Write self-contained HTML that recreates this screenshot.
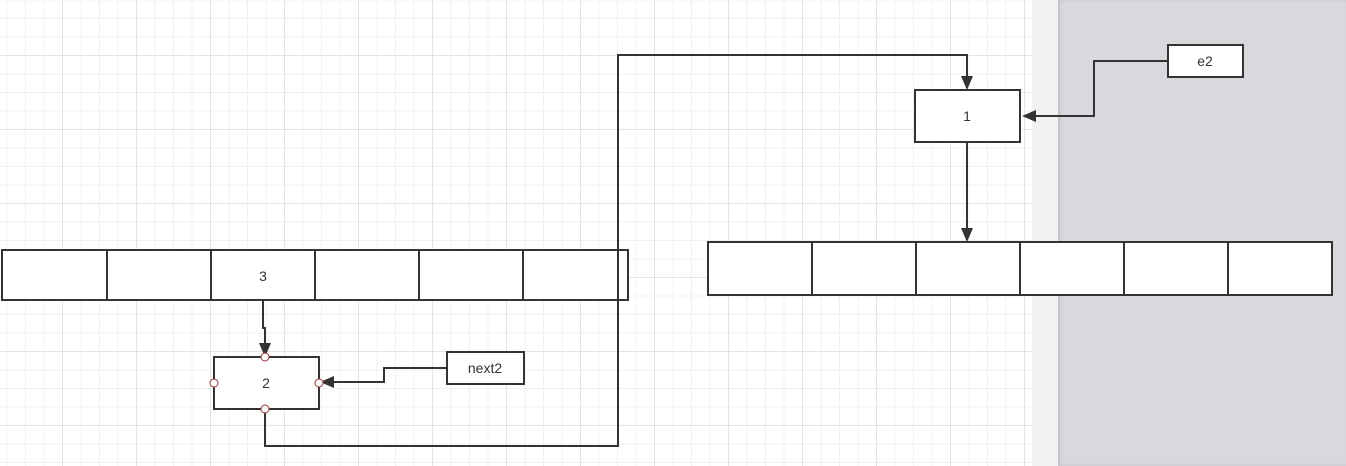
<!DOCTYPE html>
<html><head><style>
body{margin:0;width:1346px;height:466px;overflow:hidden;position:relative;font-family:"Liberation Sans",sans-serif;}
.bg{position:absolute;left:0;top:0;width:1032px;height:466px;background-color:#fff;
background-image:linear-gradient(#e4e4e4 1px,transparent 1px),linear-gradient(90deg,#e4e4e4 1px,transparent 1px),linear-gradient(#f0f0f0 1px,transparent 1px),linear-gradient(90deg,#f0f0f0 1px,transparent 1px);
background-size:74px 74px,74px 74px,18.5px 18.5px,18.5px 18.5px;background-position:-12px -19px;}
.strip{position:absolute;left:1032px;top:0;width:26px;height:466px;background:#f1f1f1;}
.gray{position:absolute;left:1058px;top:0;width:288px;height:466px;background:#d8d9dd;box-shadow:inset 2px 0 3px #c0c0c4;}
svg{position:absolute;left:0;top:0;}
</style></head><body>
<div class="bg"></div><div class="strip"></div><div class="gray"></div>
<svg width="1346" height="466" font-family="Liberation Sans, sans-serif" font-size="14" fill="#333">
<g stroke="#333" stroke-width="2" fill="#fff">
<rect x="2" y="250" width="626" height="50"/>
<rect x="708" y="242" width="624" height="53"/>
<rect x="214" y="357" width="105" height="52"/>
<rect x="447" y="352" width="77" height="32"/>
<rect x="915" y="90" width="105" height="52"/>
<rect x="1168" y="45" width="75" height="32"/>
</g>
<g stroke="#333" stroke-width="2" fill="none">
<path d="M107 250V300M211 250V300M315 250V300M419 250V300M523 250V300"/>
<path d="M812 242V295M916 242V295M1020 242V295M1124 242V295M1228 242V295"/>
<path d="M263 301V328H265V345"/>
<path d="M265 409V446H618V55H967V78"/>
<path d="M967 142V230"/>
<path d="M1168 61H1094V116H1034"/>
<path d="M447 368H384V382H332"/>
</g>
<g fill="#333">
<polygon points="259,343 271,343 265,357"/>
<polygon points="961,76 973,76 967,90"/>
<polygon points="961,228 973,228 967,242"/>
<polygon points="1036,110 1036,122 1022,116"/>
<polygon points="334,376 334,388 320,382"/>
</g>
<g fill="#fff" stroke="#a33" stroke-width="1">
<circle cx="265" cy="357" r="4"/><circle cx="265" cy="409" r="4"/>
<circle cx="214" cy="383" r="4"/><circle cx="319" cy="383" r="4"/>
</g>
<g text-anchor="middle">
<text x="263" y="281">3</text>
<text x="266" y="388">2</text>
<text x="485" y="373">next2</text>
<text x="967" y="121">1</text>
<text x="1205" y="66">e2</text>
</g>
</svg>
</body></html>
